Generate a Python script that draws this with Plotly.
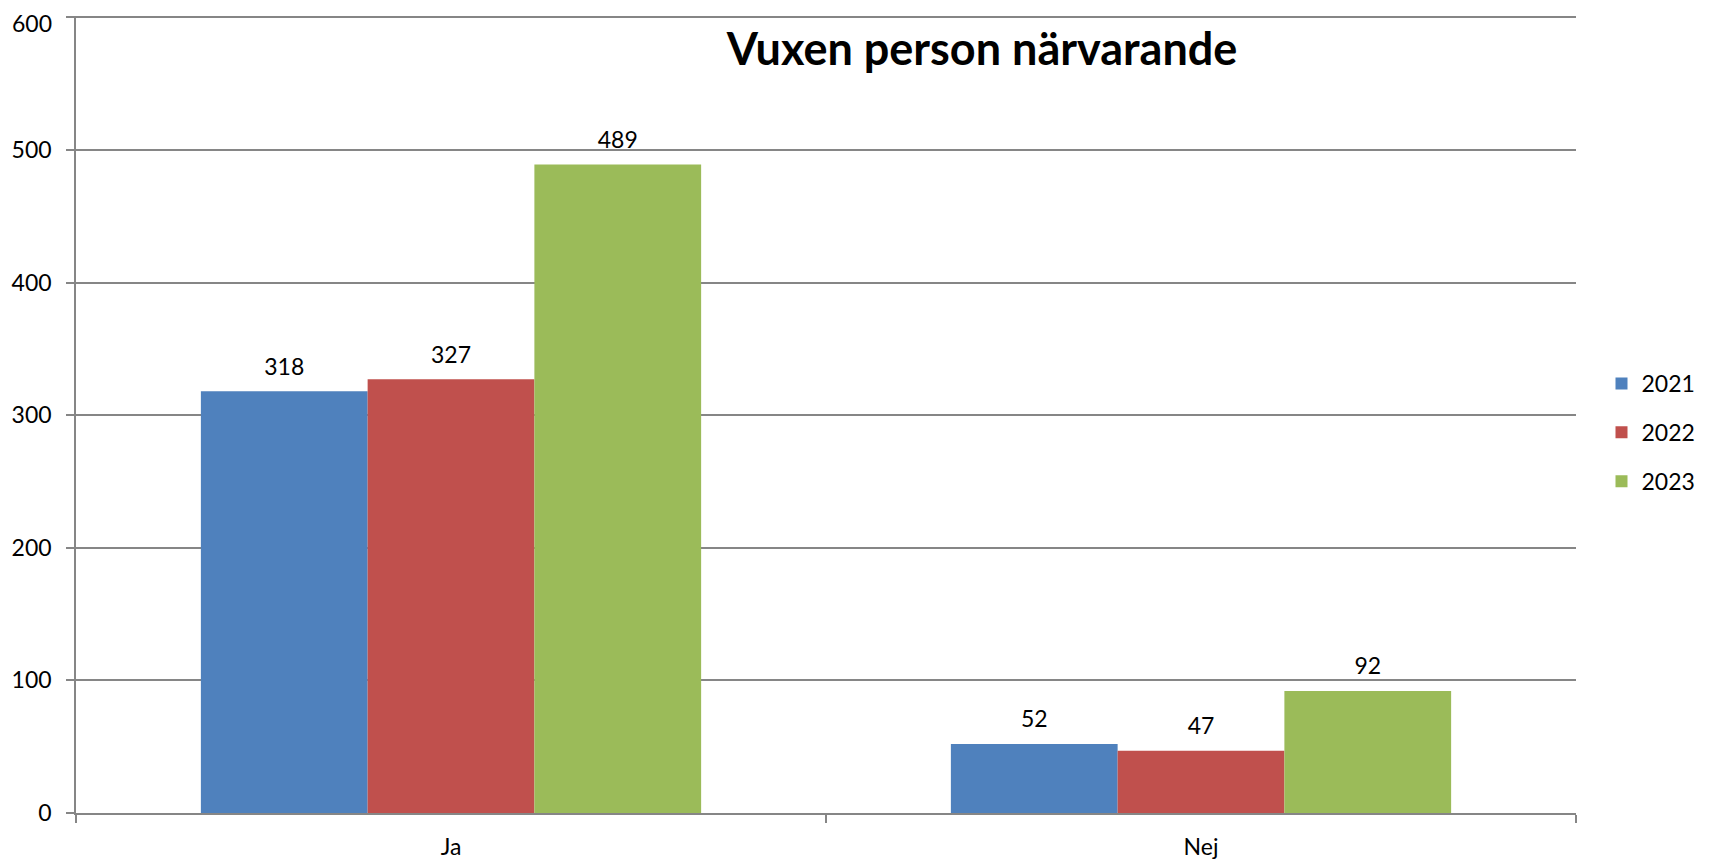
import plotly.graph_objects as go

# Data
categories = ["Ja", "Nej"]
years = ["2021", "2022", "2023"]
values_2021 = [318, 52]
values_2022 = [327, 47]
values_2023 = [489, 92]
colors = ["#4F81BD", "#C0504D", "#9BBB59"]
y_ticks = [0, 100, 200, 300, 400, 500, 600]

series = [values_2021, values_2022, values_2023]

fig = go.Figure()

for year, vals, col in zip(years, series, colors):
    fig.add_trace(go.Bar(
        x=categories,
        y=vals,
        name=year,
        legendgroup=year,
        offsetgroup=year,
        marker=dict(color=col, line=dict(width=0)),
    ))
    # value labels, lifted a little above each bar
    fig.add_trace(go.Scatter(
        x=categories,
        y=vals,
        mode="markers+text",
        offsetgroup=year,
        marker=dict(size=16, opacity=0),
        text=[str(v) for v in vals],
        textposition="top center",
        textfont=dict(size=23, color="black"),
        showlegend=False,
        hoverinfo="skip",
        cliponaxis=False,
    ))

# page body has an 8px margin, so the figure is a bit smaller than the window
fig.update_layout(
    width=1707,
    height=856,
    barmode="group",
    scattermode="group",
    bargap=0.333,
    bargroupgap=0,
    scattergap=0.333,
    plot_bgcolor="white",
    paper_bgcolor="white",
    font=dict(family="Lato, Calibri, sans-serif", size=23, color="black"),
    margin=dict(l=68, r=139, t=8, b=51),
    title=dict(
        text="<b>Vuxen person närvarande</b>",
        x=0.5706, xanchor="center",
        y=0.952, yanchor="middle",
        font=dict(size=45, color="black"),
    ),
    legend=dict(
        x=1.017, xanchor="left",
        y=0.4775, yanchor="middle",
        font=dict(size=23),
        tracegroupgap=16,
        itemwidth=30,
    ),
    showlegend=True,
)

# range a touch above 600 so the top gridline is drawn
fig.update_yaxes(
    range=[0, 601],
    tickvals=y_ticks,
    automargin=False,
    showgrid=True,
    gridcolor="#868686",
    gridwidth=1.5,
    showline=True,
    linecolor="#868686",
    linewidth=1.5,
    ticks="outside",
    ticklen=8,
    tickcolor="#868686",
    tickwidth=1.5,
    zeroline=False,
    ticklabelstandoff=10,
)

# the top tick label sits too close to the page edge and plotly drops it,
# so it is added by hand, nudged down just enough to stay inside the figure
fig.add_annotation(
    x=0, xref="paper",
    y=y_ticks[-1], yref="y",
    text=str(y_ticks[-1]),
    showarrow=False,
    xanchor="right", yanchor="middle",
    xshift=-23, yshift=-6,
    borderpad=0,
    font=dict(size=23, color="black"),
)

fig.update_xaxes(
    automargin=False,
    showgrid=False,
    showline=True,
    linecolor="#868686",
    linewidth=1.5,
    ticks="outside",
    tickson="boundaries",
    ticklen=8,
    tickcolor="#868686",
    tickwidth=1.5,
    ticklabelstandoff=13,
)

fig.write_html("out.html")
